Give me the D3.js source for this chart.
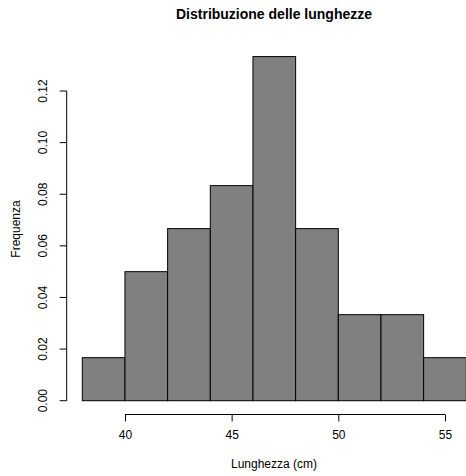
<!DOCTYPE html>
<html>
<head>
<meta charset="utf-8">
<script src="https://cdn.jsdelivr.net/npm/d3@7"></script>
<style>
  body { margin: 0; background: #fff; }
  text { font-family: "Liberation Sans", Arial, sans-serif; fill: #000; }
</style>
</head>
<body>
<div id="chart"></div>
<script>
// histogram bins (cm) and density per bin
var binStarts = [38, 40, 42, 44, 46, 48, 50, 52, 54];
var binWidth = 2;
var densities = [0.01667, 0.05, 0.06667, 0.08333, 0.13333, 0.06667, 0.03333, 0.03333, 0.01667];
var xTicks = [40, 45, 50, 55];
var yTicks = [0, 0.02, 0.04, 0.06, 0.08, 0.10, 0.12];

var svgWidth = 466;
var svgHeight = 476;

var svg = d3.select("#chart")
  .append("svg")
  .attr("width", svgWidth)
  .attr("height", svgHeight);

// scales - plot region a la R (bins 38..56)
var x = d3.scaleLinear()
  .domain([38, 56])
  .range([82.3, 466.3]);

var y = d3.scaleLinear()
  .domain([0, 0.12])
  .range([400.7, 91]);

// bars
svg.append("g")
  .selectAll("rect")
  .data(binStarts)
  .enter()
  .append("rect")
  .attr("x", d => x(d))
  .attr("y", (d, i) => y(densities[i]))
  .attr("width", d => x(d + binWidth) - x(d))
  .attr("height", (d, i) => y(0) - y(densities[i]))
  .attr("fill", "#808080")
  .attr("stroke", "#000")
  .attr("stroke-width", 1);

// x axis
var xAxis = svg.append("g")
  .attr("transform", "translate(0,414.5)")
  .call(d3.axisBottom(x).tickValues(xTicks).tickSize(7).tickPadding(9).tickFormat(d3.format("d")));
xAxis.select(".domain").attr("d", "M" + x(40) + ",0H" + x(55)).attr("stroke", "#000");
xAxis.selectAll("text").style("font-size", "12px").style("font-family", "Liberation Sans, Arial, sans-serif");

// y axis
var yAxis = svg.append("g")
  .attr("transform", "translate(66.7,0)")
  .call(d3.axisLeft(y).tickValues(yTicks).tickSize(7).tickFormat(d3.format(".2f")));
yAxis.select(".domain").attr("d", "M0," + y(0) + "V" + y(0.12)).attr("stroke", "#000");
yAxis.selectAll("text")
  .style("font-size", "12px")
  .style("font-family", "Liberation Sans, Arial, sans-serif")
  .attr("text-anchor", "middle")
  .attr("dy", null)
  .attr("x", null)
  .attr("transform", d => "translate(-20," + y(d) + ") rotate(-90)")
  .attr("y", 0);
yAxis.selectAll(".tick").attr("transform", "translate(0,0)");
yAxis.selectAll(".tick line").attr("y1", d => y(d)).attr("y2", d => y(d));

// title
svg.append("text")
  .attr("x", 274)
  .attr("y", 19)
  .attr("text-anchor", "middle")
  .style("font-size", "14px")
  .style("font-weight", "bold")
  .text("Distribuzione delle lunghezze");

// axis labels
svg.append("text")
  .attr("x", 274)
  .attr("y", 468)
  .attr("text-anchor", "middle")
  .style("font-size", "12px")
  .text("Lunghezza (cm)");

svg.append("text")
  .attr("transform", "translate(20,229) rotate(-90)")
  .attr("text-anchor", "middle")
  .style("font-size", "12px")
  .text("Frequenza");
</script>
</body>
</html>
